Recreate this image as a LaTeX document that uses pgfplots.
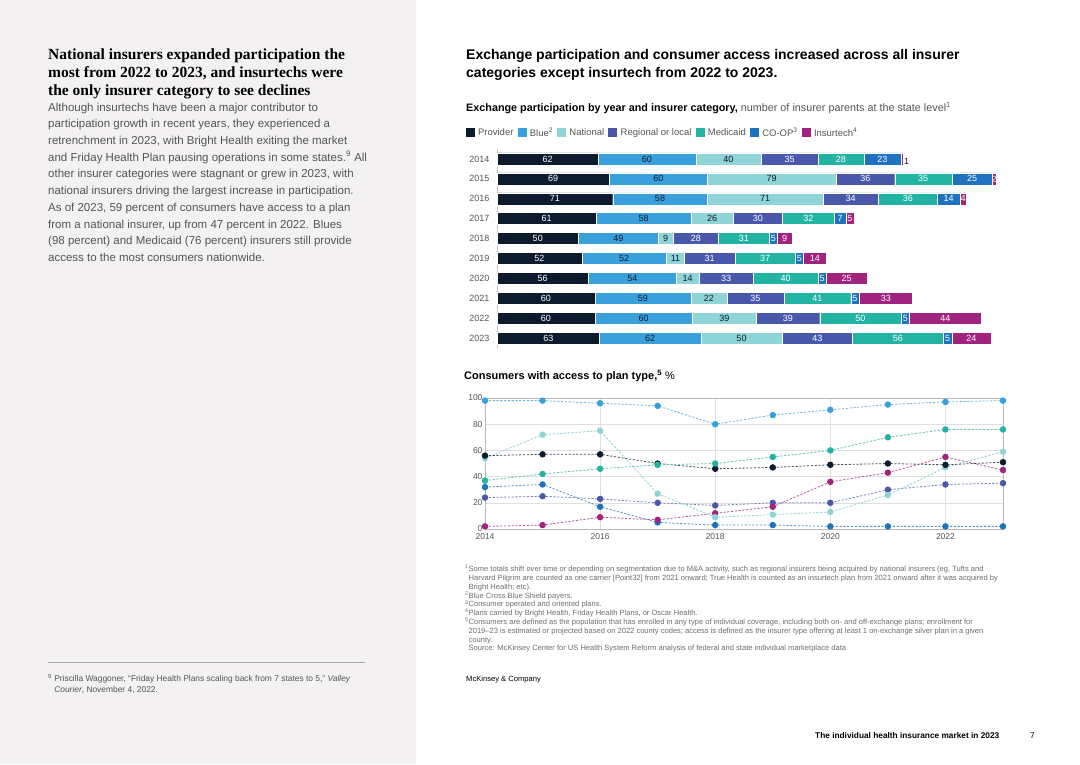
\documentclass[border=0pt]{standalone}
\usepackage{pgfplots}
\pgfplotsset{compat=1.18}
\usepackage{pgfplotstable}
\usepackage{fontspec}
\setmainfont{Liberation Sans}
\newfontfamily\headserif{Liberation Serif}

\definecolor{pageGray}{HTML}{F3F1F2}
\definecolor{cProv}{HTML}{0D1B2E}
\definecolor{cBlue}{HTML}{3AA0DC}
\definecolor{cNat}{HTML}{8FD4D6}
\definecolor{cReg}{HTML}{4A58AC}
\definecolor{cMed}{HTML}{22B3A3}
\definecolor{cCoop}{HTML}{1F72BE}
\definecolor{cTech}{HTML}{A0237E}
\definecolor{txtGray}{HTML}{555555}
\definecolor{noteGray}{HTML}{6E6E6E}

% insurer parents at the state level, by year
\pgfplotstableread{
row year P B N R M C I
0 2014 62 60 40 35 28 23 1
1 2015 69 60 79 36 35 25 2
2 2016 71 58 71 34 36 14 4
3 2017 61 58 26 30 32 7 5
4 2018 50 49 9 28 31 5 9
5 2019 52 52 11 31 37 5 14
6 2020 56 54 14 33 40 5 25
7 2021 60 59 22 35 41 5 33
8 2022 60 60 39 39 50 5 44
9 2023 63 62 50 43 56 5 24
}\participation

% consumers with access to plan type, %
\pgfplotstableread{
year P B N R M C I
2014 56 98 54 24 37 32 2
2015 57 98 72 25 42 34 3
2016 57 96 75 23 46 17 9
2017 50 94 27 20 49 5 7
2018 46 80 9 18 50 3 12
2019 47 87 11 20 55 3 17
2020 49 91 13 20 60 2 36
2021 50 95 26 30 70 2 43
2022 49 97 47 34 76 2 55
2023 51 98 59 35 76 2 45
}\access

\pgfplotsset{
  seg/.style={fill=#1, draw=white, line width=0.4pt},
  sq/.style={legend image code/.code={\fill[#1, draw=none] (0pt,-4.5pt) rectangle (9pt,4.5pt);}},
  lbl/.style={draw=none, point meta=explicit symbolic,
    nodes near coords={\pgfplotspointmeta},
    every node near coord/.append style={text=#1}},
  bargeom/.style={at={(497pt,-149pt)}, anchor=north west,
    scale only axis, width=521.6pt, height=199pt,
    xmin=0, xmax=320, ymin=-0.5, ymax=9.5, y dir=reverse, clip=false},
}

\begin{document}
\begin{tikzpicture}
\useasboundingbox (0,0) rectangle (1080pt,-764pt);
\fill[white] (0,0) rectangle (1080pt,-764pt);
\fill[pageGray] (0,0) rectangle (416pt,-764pt);

% left column
\node[anchor=north west, inner sep=0pt, align=left,
  font=\headserif\bfseries\fontsize{15.5}{17.8}\selectfont] at (48pt,-48.5pt)
  {National insurers expanded participation the\\
   most from 2022 to 2023, and insurtechs were\\
   the only insurer category to see declines};
\node[anchor=north west, inner sep=0pt, align=left, text=txtGray,
  font=\fontsize{11.5}{16.7}\selectfont] at (48pt,-102.6pt)
  {Although insurtechs have been a major contributor to\\
   participation growth in recent years, they experienced a\\
   retrenchment in 2023, with Bright Health exiting the market\\
   and Friday Health Plan pausing operations in some states.\textsuperscript{9} All\\
   other insurer categories were stagnant or grew in 2023, with\\
   national insurers driving the largest increase in participation.\\
   As of 2023, 59 percent of consumers have access to a plan\\
   from a national insurer, up from 47 percent in 2022. Blues\\
   (98 percent) and Medicaid (76 percent) insurers still provide\\
   access to the most consumers nationwide.};
\draw[gray!70, line width=0.8pt] (48pt,-662pt) -- (365pt,-662pt);
\node[anchor=north west, inner sep=0pt, align=left, text=txtGray,
  font=\fontsize{8.4}{11}\selectfont] at (48pt,-674.5pt)
  {\textsuperscript{9} Priscilla Waggoner, “Friday Health Plans scaling back from 7 states to 5,” \textit{Valley}\\
   \hphantom{\textsuperscript{9} }\textit{Courier}, November 4, 2022.};

% right column titles
\node[anchor=north west, inner sep=0pt, align=left,
  font=\bfseries\fontsize{14}{18}\selectfont] at (466pt,-48.8pt)
  {Exchange participation and consumer access increased across all insurer\\
   categories except insurtech from 2022 to 2023.};
\node[anchor=base west, inner sep=0pt, font=\fontsize{10.8}{12}\selectfont] at (466pt,-111pt)
  {\textbf{Exchange participation by year and insurer category,} \textcolor{txtGray}{number of insurer parents at the state level\textsuperscript{1}}};

% stacked bars
\begin{axis}[
  bargeom,
  xbar stacked, bar width=12pt,
  axis x line=none,
  axis y line=left, axis line style={-, draw=gray!45, line width=0.5pt},
  ytick={0,...,9},
  yticklabels={2014,2015,2016,2017,2018,2019,2020,2021,2022,2023},
  major tick length=0pt,
  yticklabel style={font=\fontsize{9}{10}\selectfont, text=txtGray, xshift=-4pt},
  legend style={at={(-0.066,1.082)}, anchor=west, draw=none, fill=none,
    font=\fontsize{9.5}{10}\selectfont, text=txtGray, legend columns=7,
    nodes={inner sep=1.7pt},
    /tikz/every even column/.append style={column sep=2.4pt},
    /tikz/every odd column/.append style={column sep=1.6pt}},
]
\addlegendimage{sq, fill=cProv}
\addlegendimage{sq, fill=cBlue}
\addlegendimage{sq, fill=cNat}
\addlegendimage{sq, fill=cReg}
\addlegendimage{sq, fill=cMed}
\addlegendimage{sq, fill=cCoop}
\addlegendimage{sq, fill=cTech}
\legend{Provider, Blue\textsuperscript{2}, National, Regional or local, Medicaid, CO-OP\textsuperscript{3}, Insurtech\textsuperscript{4}}
\addplot[seg=cProv] table[x=P, y=row] {\participation};
\addplot[seg=cBlue] table[x=B, y=row] {\participation};
\addplot[seg=cNat] table[x=N, y=row] {\participation};
\addplot[seg=cReg] table[x=R, y=row] {\participation};
\addplot[seg=cMed] table[x=M, y=row] {\participation};
\addplot[seg=cCoop] table[x=C, y=row] {\participation};
\addplot[seg=cTech] table[x=I, y=row] {\participation};
\end{axis}

% segment labels, centred in each segment
\begin{axis}[
  bargeom, hide axis,
  every node near coord/.append style={font=\fontsize{9}{10}\selectfont, anchor=center, inner sep=1pt},
]
\addplot[lbl=white] table[x expr=\thisrow{P}/2, y=row, meta=P] {\participation};
\addplot[lbl=cProv] table[x expr=\thisrow{P}+\thisrow{B}/2, y=row, meta=B] {\participation};
\addplot[lbl=cProv] table[x expr=\thisrow{P}+\thisrow{B}+\thisrow{N}/2, y=row, meta=N] {\participation};
\addplot[lbl=white] table[x expr=\thisrow{P}+\thisrow{B}+\thisrow{N}+\thisrow{R}/2, y=row, meta=R] {\participation};
\addplot[lbl=white] table[x expr=\thisrow{P}+\thisrow{B}+\thisrow{N}+\thisrow{R}+\thisrow{M}/2, y=row, meta=M] {\participation};
\addplot[lbl=white] table[x expr=\thisrow{P}+\thisrow{B}+\thisrow{N}+\thisrow{R}+\thisrow{M}+\thisrow{C}/2, y=row, meta=C] {\participation};
\addplot[lbl=white, skip coords between index={0}{1}]
  table[x expr=\thisrow{P}+\thisrow{B}+\thisrow{N}+\thisrow{R}+\thisrow{M}+\thisrow{C}+\thisrow{I}/2, y=row, meta=I] {\participation};
\addplot[lbl=cProv, skip coords between index={1}{10},
  every node near coord/.append style={anchor=west, yshift=-2.5pt}]
  table[x expr=\thisrow{P}+\thisrow{B}+\thisrow{N}+\thisrow{R}+\thisrow{M}+\thisrow{C}+\thisrow{I}, y=row, meta=I] {\participation};
\end{axis}

% line chart
\node[anchor=base west, inner sep=0pt, font=\fontsize{11}{12}\selectfont] at (464pt,-379pt)
  {\textbf{Consumers with access to plan type,\textsuperscript{5}} \%};
\begin{axis}[
  at={(485pt,-529pt)}, anchor=south west,
  scale only axis, width=518pt, height=131pt,
  xmin=2014, xmax=2023, ymin=0, ymax=100,
  xtick={2014,2016,...,2022}, ytick={0,20,...,100},
  grid=major, grid style={draw=gray!25, line width=0.5pt},
  axis line style={draw=gray!55, line width=0.6pt},
  major tick length=0pt,
  /pgf/number format/assume math mode=true,
  ticklabel style={font=\fontsize{8.5}{10}\selectfont, text=txtGray},
  xticklabel style={/pgf/number format/1000 sep={}, yshift=-1pt},
  yticklabel style={xshift=1pt},
  clip=false,
  every axis plot/.append style={dash pattern=on 2.2pt off 1.6pt, line width=0.8pt,
    mark=*, mark size=2.8pt},
]
\addplot[cCoop!75, mark options={solid, fill=cCoop, draw=cCoop}] table[x=year, y=C] {\access};
\addplot[cReg!75, mark options={solid, fill=cReg, draw=cReg}] table[x=year, y=R] {\access};
\addplot[cTech!75, mark options={solid, fill=cTech, draw=cTech}] table[x=year, y=I] {\access};
\addplot[cNat, mark options={solid, fill=cNat, draw=cNat}] table[x=year, y=N] {\access};
\addplot[cProv!75, mark options={solid, fill=cProv, draw=cProv}] table[x=year, y=P] {\access};
\addplot[cMed!75, mark options={solid, fill=cMed, draw=cMed}] table[x=year, y=M] {\access};
\addplot[cBlue!75, mark options={solid, fill=cBlue, draw=cBlue}] table[x=year, y=B] {\access};
\end{axis}

% notes
\node[anchor=north west, inner sep=0pt, align=left, text=noteGray,
  font=\fontsize{7.55}{8.8}\selectfont] at (465pt,-565pt)
  {\textsuperscript{1}Some totals shift over time or depending on segmentation due to M\&A activity, such as regional insurers being acquired by national insurers (eg, Tufts and\\
   \hphantom{\textsuperscript{1}}Harvard Pilgrim are counted as one carrier [Point32] from 2021 onward; True Health is counted as an insurtech plan from 2021 onward after it was acquired by\\
   \hphantom{\textsuperscript{1}}Bright Health; etc).\\
   \textsuperscript{2}Blue Cross Blue Shield payers.\\
   \textsuperscript{3}Consumer operated and oriented plans.\\
   \textsuperscript{4}Plans carried by Bright Health, Friday Health Plans, or Oscar Health.\\
   \textsuperscript{5}Consumers are defined as the population that has enrolled in any type of individual coverage, including both on- and off-exchange plans; enrollment for\\
   \hphantom{\textsuperscript{1}}2019–23 is estimated or projected based on 2022 county codes; access is defined as the insurer type offering at least 1 on-exchange silver plan in a given\\
   \hphantom{\textsuperscript{1}}county.\\
   \hphantom{\textsuperscript{1}}Source: McKinsey Center for US Health System Reform analysis of federal and state individual marketplace data};
\node[anchor=base west, inner sep=0pt, font=\fontsize{7.6}{9}\selectfont] at (466pt,-681pt) {McKinsey \& Company};
\node[anchor=base west, inner sep=0pt, font=\bfseries\fontsize{8.3}{9}\selectfont] at (815pt,-738pt) {The individual health insurance market in 2023};
\node[anchor=base west, inner sep=0pt, font=\fontsize{8.3}{9}\selectfont] at (1030pt,-738pt) {7};
\end{tikzpicture}
\end{document}
